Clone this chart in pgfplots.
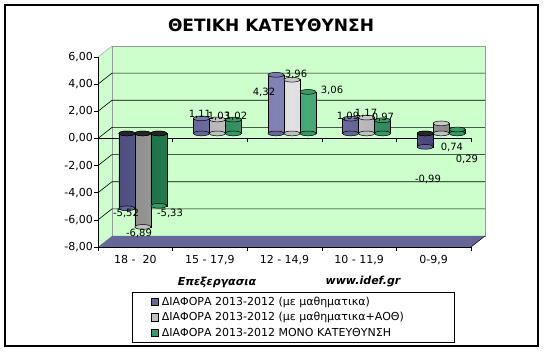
\documentclass[border=0pt]{standalone}
\usepackage{fontspec}
\setmainfont{DejaVu Sans}
\usepackage{pgfplots}
\pgfplotsset{compat=1.18}
\usepackage{pgfplotstable}

\definecolor{wallc}{HTML}{CCFFCC}
\definecolor{floorc}{HTML}{666699}
\definecolor{bL}{HTML}{4E4E82}
\definecolor{bM}{HTML}{8282B5}
\definecolor{bR}{HTML}{484878}
\definecolor{bT}{HTML}{7A7AAE}
\definecolor{bS}{HTML}{666699}
\definecolor{gL}{HTML}{8E8E8E}
\definecolor{gM}{HTML}{E2E2E2}
\definecolor{gR}{HTML}{888888}
\definecolor{gT}{HTML}{C8C8C8}
\definecolor{gS}{HTML}{C0C0C0}
\definecolor{nL}{HTML}{1E744A}
\definecolor{nM}{HTML}{48AA78}
\definecolor{nR}{HTML}{1B6842}
\definecolor{nT}{HTML}{3A9A68}
\definecolor{nS}{HTML}{339966}

\pgfplotstableread{
x y
0 -5.52
1 1.11
2 4.32
3 1.09
4 -0.99
}\serA
\pgfplotstableread{
x y
0 -6.89
1 1.03
2 3.96
3 1.17
4 0.74
}\serB
\pgfplotstableread{
x y
0 -5.33
1 1.02
2 3.06
3 0.97
4 0.29
}\serC
\pgfplotstableread{
x y lab
-0.125 -5.53 -5,52
0.05 -7.0 -6,89
0.465 -5.53 -5,33
0.867 1.77 1,11
1.122 1.62 1,03
1.35 1.62 1,02
1.725 3.39 4,32
2.154 4.72 3,96
2.637 3.54 3,06
2.851 1.62 1,09
3.093 1.84 1,17
3.32 1.55 0,97
3.924 -3.02 -0,99
4.245 -0.66 0,74
4.446 -1.55 0,29
}\labs

\pgfplotsset{
  cap/.style={forget plot, only marks, mark=*, mark size=8pt,
    mark options={yscale=0.3, fill=#1, draw=black, line width=0.5pt}, yshift=5pt},
  barst/.style n args={4}{forget plot, ybar, bar width=16pt, bar shift=#1, yshift=5pt,
    draw=black, line width=0.5pt, left color=#2, right color=#4, middle color=#3},
  sq/.style={legend image code/.code={%
    \path[draw=none, fill=none] (-19pt,-7.8pt) rectangle (7.5pt,7.8pt);
    \path[fill=#1, draw=black, line width=0.5pt] (0pt,-3.6pt) rectangle (7.2pt,3.6pt);}},
}

\begin{document}
\begin{tikzpicture}[x=1pt,y=1pt]
\useasboundingbox (0,0) rectangle (545,352);
\draw[line width=1.4pt] (5,6) rectangle (538,347);
\node[font=\bfseries\fontsize{17}{20}\selectfont] at (271,327) {ΘΕΤΙΚΗ ΚΑΤΕΥΘΥΝΣΗ};
% walls
\fill[wallc] (98,105) -- (98,295) -- (112,306) -- (485,306) -- (485,116) -- (112,116) -- cycle;
\draw[gray!80] (112,116) rectangle (485,306);
\draw[gray!80] (98,295) -- (112,306);
\foreach \v in {-6,-4,...,4} {
  \pgfmathsetmacro{\yy}{105+(\v+8)*190/14}
  \draw[black, line width=0.6pt] (98,\yy) -- (112,\yy+11) -- (485,\yy+11);
}
\fill[floorc] (98,105) -- (471,105) -- (485,116) -- (112,116) -- cycle;
\draw[black, line width=0.5pt] (471,105) -- (485,116);
% zero category line
\draw[black, line width=0.6pt] (98,213.57) -- (471,213.57);
\foreach \xx in {172.6,247.2,321.8,396.4,471} {\draw[black, line width=0.6pt] (\xx,213.57) -- (\xx,209.57);}
\node[font=\bfseries\itshape\fontsize{11}{13}\selectfont] at (217,70) {Επεξεργασια};
\node[font=\bfseries\itshape\fontsize{11}{13}\selectfont] at (363,70) {www.idef.gr};

\begin{axis}[
  at={(98pt,105pt)}, anchor=south west, scale only axis,
  width=373pt, height=190pt,
  xmin=-0.5, xmax=4.5, ymin=-8, ymax=6,
  axis lines*=left,
  axis line style={black, line width=0.6pt},
  every tick/.style={black, line width=0.6pt},
  tick align=outside, major tick length=4pt,
  xtick={-0.5,0.5,...,4.5},
  x tick label as interval,
  xticklabels={{18 -\ \ 20},{15 - 17,9},{12 - 14,9},{10 - 11,9},{0-9,9}},
  ytick={-8,-6,...,6},
  yticklabel={\pgfmathprintnumber[fixed,fixed zerofill,precision=2,use comma,assume math mode=true]{\tick}},
  tick label style={font=\fontsize{11}{13}\selectfont},
  yticklabel style={inner xsep=1pt},
  xticklabel style={yshift=-1pt},
  clip=false,
  legend style={at={(0.0912,-0.2368)}, anchor=north west, draw=black, line width=0.7pt,
    inner xsep=0pt, inner ysep=1.5pt, nodes={inner sep=0pt, anchor=west}, column sep=3pt,
    font=\fontsize{11}{13}\selectfont},
  legend cell align=left,
]
% series A (blue)
\addplot[cap=bS, xshift=-8.5pt] table[x=x, y expr={min(\thisrow{y},0)}] {\serA};
\addplot[barst={-8.5pt}{bL}{bM}{bR}] table {\serA};
\addplot[cap=bT, xshift=-8.5pt] table[x=x, y expr={max(\thisrow{y},0)}] {\serA};
\addplot[cap=black!85, xshift=-8.5pt] coordinates {(0,0) (4,0)};
% series B (grey)
\addplot[cap=gS, xshift=7.5pt] table[x=x, y expr={min(\thisrow{y},0)}] {\serB};
\addplot[barst={7.5pt}{gL}{gM}{gR}] table {\serB};
\addplot[cap=gT, xshift=7.5pt] table[x=x, y expr={max(\thisrow{y},0)}] {\serB};
\addplot[cap=black!85, xshift=7.5pt] coordinates {(0,0)};
% series C (green)
\addplot[cap=nS, xshift=23.5pt] table[x=x, y expr={min(\thisrow{y},0)}] {\serC};
\addplot[barst={23.5pt}{nL}{nM}{nR}] table {\serC};
\addplot[cap=nT, xshift=23.5pt] table[x=x, y expr={max(\thisrow{y},0)}] {\serC};
\addplot[cap=black!85, xshift=23.5pt] coordinates {(0,0)};
% labels
\addplot[draw=none, mark=none, forget plot, nodes near coords, point meta=explicit symbolic,
  nodes near coords align={center},
  every node near coord/.append style={anchor=center, inner sep=0pt, text=black, font=\fontsize{10}{12}\selectfont}]
  table[x=x, y=y, meta=lab] {\labs};
% legend
\addlegendimage{sq=bS}
\addlegendentry{\makebox[292pt][l]{ΔΙΑΦΟΡΑ 2013-2012 (με μαθηματικα)}}
\addlegendimage{sq=gS}
\addlegendentry{\makebox[292pt][l]{ΔΙΑΦΟΡΑ 2013-2012 (με μαθηματικα+ΑΟΘ)}}
\addlegendimage{sq=nS}
\addlegendentry{\makebox[292pt][l]{ΔΙΑΦΟΡΑ 2013-2012 ΜΟΝΟ ΚΑΤΕΥΘΥΝΣΗ}}
\end{axis}
\end{tikzpicture}
\end{document}
